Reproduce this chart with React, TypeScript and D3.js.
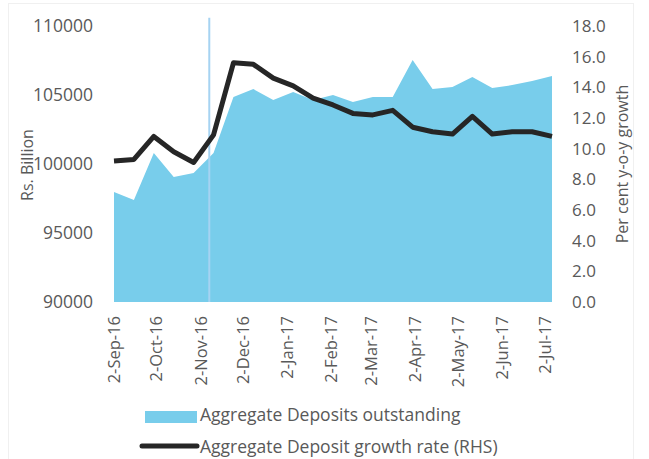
import React, { useRef, useEffect } from 'react';
import * as d3 from 'd3';

// fortnightly reporting dates
const dates = [
  '2016-09-02', '2016-09-16', '2016-09-30', '2016-10-14', '2016-10-28', '2016-11-11',
  '2016-11-25', '2016-12-09', '2016-12-23', '2017-01-06', '2017-01-20', '2017-02-03',
  '2017-02-17', '2017-03-03', '2017-03-17', '2017-03-31', '2017-04-14', '2017-04-28',
  '2017-05-12', '2017-05-26', '2017-06-09', '2017-06-23', '2017-07-07',
];
// Rs. Billion
const deposits = [
  97970, 97400, 100800, 99060, 99350, 100800, 104860, 105430, 104640, 105220, 104640, 105000,
  104490, 104860, 104860, 107540, 105430, 105580, 106300, 105510, 105720, 106010, 106380,
];
// per cent y-o-y
const growth = [
  9.2, 9.3, 10.8, 9.8, 9.1, 10.9, 15.6, 15.5, 14.6, 14.1, 13.3, 12.85,
  12.3, 12.2, 12.5, 11.4, 11.1, 10.95, 12.1, 10.95, 11.1, 11.1, 10.8,
];
const tickDates = [
  '2016-09-02', '2016-10-02', '2016-11-02', '2016-12-02', '2017-01-02', '2017-02-02',
  '2017-03-02', '2017-04-02', '2017-05-02', '2017-06-02', '2017-07-02',
];
const leftTicks = [90000, 95000, 100000, 105000, 110000];
const rightTicks = [0, 2, 4, 6, 8, 10, 12, 14, 16, 18];
// demonetisation marker
const eventDate = '2016-11-08';
const eventTop = 110600;

const seriesNames = ['Aggregate Deposits outstanding', 'Aggregate Deposit growth rate (RHS)'];

const W = 649;
const H = 459;
const FONT = '"Open Sans", sans-serif';
const TXT = '#595959';
const AREA = '#78cdeb';
const LINE = '#262626';

const parse = d3.timeParse('%Y-%m-%d');

const App = () => {
  const svgRef = useRef<SVGSVGElement | null>(null);

  useEffect(() => {
    if (!svgRef.current) return;
    const svg = d3.select(svgRef.current);
    svg.selectAll('*').remove();

    const data = dates.map((d, i) => ({ date: parse(d) as Date, dep: deposits[i], gr: growth[i] }));

    const x = d3.scaleTime()
      .domain([parse(dates[0]) as Date, parse(dates[dates.length - 1]) as Date])
      .range([114, 552]);
    const yL = d3.scaleLinear().domain([90000, 110000]).range([302, 26]);
    const yR = d3.scaleLinear().domain([0, 18]).range([302, 26]);

    svg.append('rect').attr('width', W).attr('height', H).attr('fill', '#fff');
    svg.append('rect')
      .attr('x', 8.5).attr('y', 3.5).attr('width', 625).attr('height', 470)
      .attr('fill', 'none').attr('stroke', '#f0f0f0');

    // area
    const area = d3.area<any>()
      .x(d => x(d.date))
      .y0(yL(90000))
      .y1(d => yL(d.dep));
    svg.append('path').datum(data).attr('fill', AREA).attr('d', area);

    // event marker
    const ex = x(parse(eventDate) as Date);
    svg.append('line')
      .attr('x1', ex).attr('x2', ex)
      .attr('y1', yL(90000)).attr('y2', yL(eventTop))
      .attr('stroke', '#a6d3f2').attr('stroke-width', 2);

    // growth line
    const line = d3.line<any>().x(d => x(d.date)).y(d => yR(d.gr));
    svg.append('path').datum(data)
      .attr('fill', 'none').attr('stroke', LINE).attr('stroke-width', 5)
      .attr('stroke-linejoin', 'round').attr('d', line);

    const txt = (g: any) => g.attr('font-family', FONT).attr('fill', TXT);

    // left axis labels
    svg.append('g').call(txt).attr('font-size', 17.5).attr('text-anchor', 'end')
      .selectAll('text').data(leftTicks).join('text')
      .attr('x', 93).attr('y', d => yL(d)).attr('dy', '0.35em')
      .text(d => String(d));

    // right axis labels
    svg.append('g').call(txt).attr('font-size', 17).attr('text-anchor', 'start')
      .selectAll('text').data(rightTicks).join('text')
      .attr('x', 572).attr('y', d => yR(d)).attr('dy', '0.35em')
      .text(d => d.toFixed(1));

    // x labels
    const fmt = d3.timeFormat('%-d-%b-%y');
    svg.append('g').call(txt).attr('font-size', 16.5).attr('text-anchor', 'end')
      .selectAll('text').data(tickDates.map(d => parse(d) as Date)).join('text')
      .attr('transform', d => `translate(${x(d)},316) rotate(-90)`)
      .attr('dy', '0.35em')
      .text(d => fmt(d));

    // axis titles
    svg.append('text').call(txt).attr('font-size', 16).attr('text-anchor', 'middle')
      .attr('transform', 'translate(27,165) rotate(-90)').attr('dy', '0.35em')
      .text('Rs. Billion');
    svg.append('text').call(txt).attr('font-size', 16).attr('text-anchor', 'middle')
      .attr('transform', 'translate(622,164) rotate(-90)').attr('dy', '0.35em')
      .text('Per cent y-o-y growth');

    // legend
    const lg = svg.append('g').call(txt).attr('font-size', 17.5);
    lg.append('rect').attr('x', 145).attr('y', 411).attr('width', 52).attr('height', 12).attr('fill', AREA);
    lg.append('text').attr('x', 200).attr('y', 421).text(seriesNames[0]);
    lg.append('line').attr('x1', 142).attr('x2', 197).attr('y1', 446).attr('y2', 446)
      .attr('stroke', LINE).attr('stroke-width', 5).attr('stroke-linecap', 'round');
    lg.append('text').attr('x', 200).attr('y', 453).text(seriesNames[1]);
  }, []);

  return (
    <div style={{ position: 'absolute', left: 0, top: 0 }}>
      <svg ref={svgRef} width={W} height={H} style={{ display: 'block' }} />
    </div>
  );
};

export default App;
